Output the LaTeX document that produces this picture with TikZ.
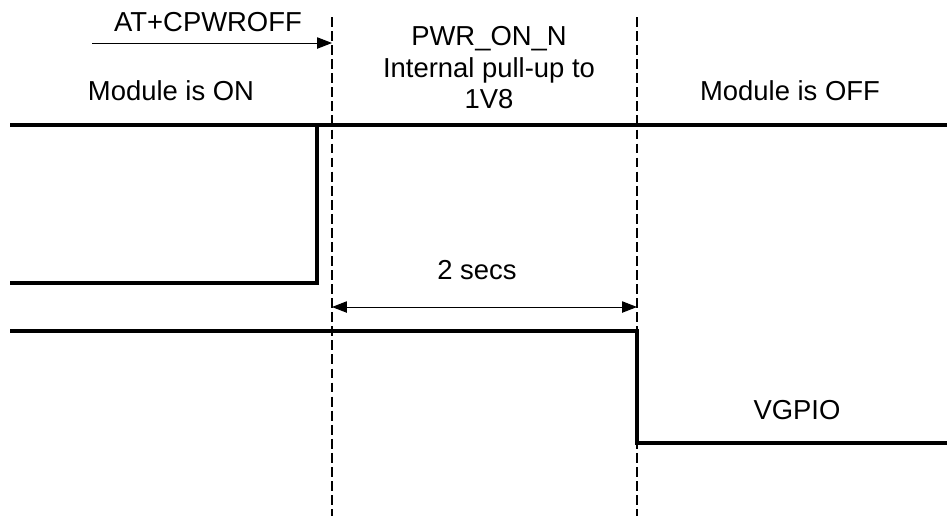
\documentclass[tikz,border=0pt]{standalone}
\usepackage{fontspec}
\setmainfont{Liberation Sans}
\usetikzlibrary{arrows.meta}

\tikzset{
  sig/.style={line width=2.2pt},
  guide/.style={line width=0.8pt, dash pattern=on 7pt off 3pt},
  lbl/.style={font=\fontsize{19.5}{22.5}\selectfont, align=center, inner sep=0pt},
  tip/.style={-{Triangle[length=10.5pt,width=8pt]}, line width=0.7pt},
  span/.style={{Triangle[length=10.5pt,width=8pt]}-{Triangle[length=10.5pt,width=8pt]}, line width=0.7pt}
}

\begin{document}
\begin{tikzpicture}[x=0.025cm,y=-0.025cm]
    \useasboundingbox (0,0) rectangle (947,516);

    % time markers
    \coordinate (t1top) at (332,17);
    \coordinate (t1bot) at (332,516);
    \coordinate (t2top) at (637,17);
    \coordinate (t2bot) at (637,516);
    \draw[guide] (t1top) -- (t1bot);
    \draw[guide] (t2top) -- (t2bot);

    % labels
    \node[lbl] (cmd) at (208,22) {AT+CPWROFF};
    \node[lbl] (on) at (171,91) {Module is ON};
    \node[lbl,anchor=north] (pwr) at (489,26) {PWR\_ON\_N\\Internal pull-up to\\1V8};
    \node[lbl] (off) at (790,91) {Module is OFF};
    \node[lbl] (dt) at (477,270) {2 secs};
    \node[lbl] (vgpio) at (797,410) {VGPIO};

    % command arrow
    \coordinate (cmdstart) at (92,43);
    \coordinate (cmdend) at (332,43);
    \draw[tip] (cmdstart) -- (cmdend);

    % 2 secs
    \coordinate (dtl) at (332,307);
    \coordinate (dtr) at (637,307);
    \draw[span] (dtl) -- (dtr);

    % PWR_ON_N trace
    \coordinate (hiL) at (10,125);
    \coordinate (hiR) at (947,125);
    \coordinate (loL) at (10,283);
    \coordinate (loR) at (317,283);
    \coordinate (rise) at (317,125);
    \draw[sig] (hiL) -- (hiR);
    \draw[sig] (loL) -- (loR) -- (rise);

    % VGPIO trace
    \coordinate (vhiL) at (10,331);
    \coordinate (vhiR) at (637,331);
    \coordinate (vloL) at (637,443);
    \coordinate (vloR) at (947,443);
    \draw[sig] (vhiL) -- (vhiR) -- (vloL) -- (vloR);
\end{tikzpicture}
\end{document}
